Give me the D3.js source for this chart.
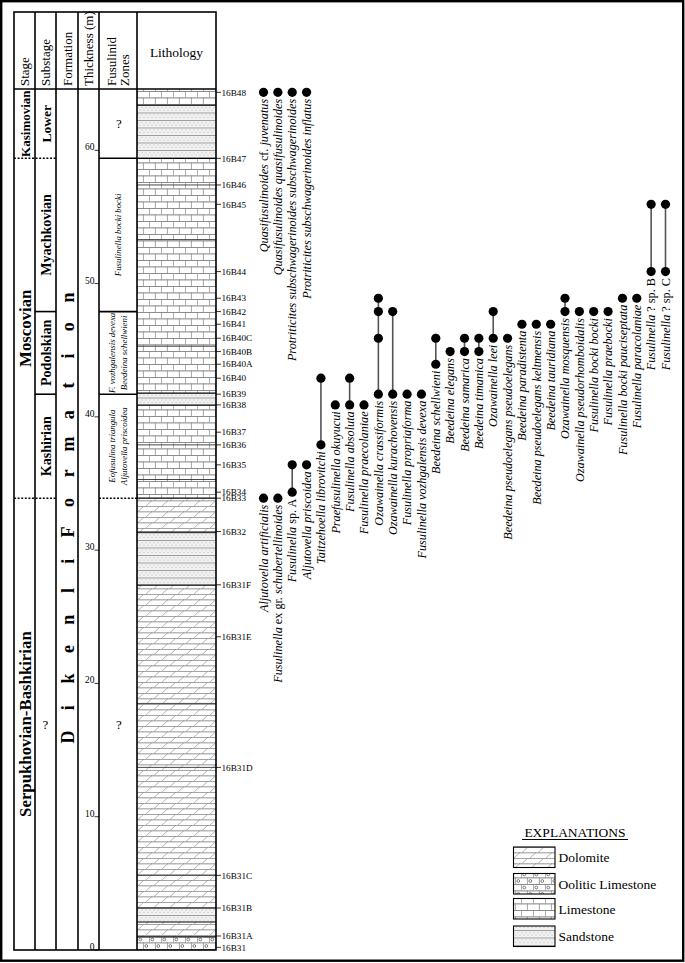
<!DOCTYPE html>
<html><head><meta charset="utf-8">
<script src="https://cdn.jsdelivr.net/npm/d3@7/dist/d3.min.js"></script>
<style>body{margin:0;background:#fff}</style>
</head><body><script>
// ---------- DATA ----------
const sampleIds = ["16B31","16B31A","16B31B","16B31C","16B31D","16B31E","16B31F","16B32","16B33","16B34","16B35","16B36","16B37","16B38","16B39","16B40","16B40A","16B40B","16B40C","16B41","16B42","16B43","16B44","16B45","16B46","16B47","16B48"];
const sampleDepths = [0.2,1.05,3.15,5.6,13.7,23.5,27.4,31.4,33.9,34.35,36.4,37.9,38.85,40.9,41.7,42.9,43.95,44.9,45.9,46.95,47.9,48.9,50.9,55.95,57.4,59.4,64.35];
const thicknessTicks = [0,10,20,30,40,50,60];
const sectionTop = 64.6;

const lithoTypes = ["oolitic","dolomite","sandstone","dolomite","sandstone","dolomite","limestone","sandstone","limestone","sandstone","limestone"];
const lithoBase  = [0,0.98,2.1,3.15,27.38,31.35,33.9,40.88,41.78,59.4,63.38];
const lithoTop   = [0.98,2.1,3.15,27.38,31.35,33.9,40.88,41.78,59.4,63.38,64.6];
const bedLines   = [5.6,13.7,18.5,35.3,37.9,45.3,53.3,57.4];

const stageNames = ["Serpukhovian-Bashkirian","Moscovian","Kasimovian"];
const stageBase = [0,33.9,59.4];
const stageTop = [33.9,59.4,64.6];
const substageNames = ["?","Kashirian","Podolskian","Myachkovian","Lower"];
const substageBase = [0,33.9,41.7,47.9,59.4];
const substageTop = [33.9,41.7,47.9,59.4,64.6];
const zoneNames = [["?"],["Eofusulina triangula","Aljutovella priscoidea"],["F. vozhgalensis devexa","Beedeina schellwieni"],["Fusulinella bocki bocki"],["?"]];
const zoneBase = [0,33.9,41.7,47.9,59.4];
const zoneTop = [33.9,41.7,47.9,59.4,64.6];
const formationLetters = "DikenliFormation".split("");

const speciesNames = ["Aljutovella artificialis","Fusulinella ex gr. schubertellinoides","Fusulinella sp. A","Aljutovella priscoidea","Taitzehoella librovitchi","Praefusulinella okuyucui","Fusulinella absoluta","Fusulinella praecolaniae","Ozawainella crassiformis","Ozawainella kurachovensis","Fusulinella propriaforma","Fusulinella vozhgalensis devexa","Beedeina schellwieni","Beedeina elegans","Beedeina samarica","Beedeina timanica","Ozawainella leei","Beedeina pseudoelegans pseudoelegans","Beedeina paradistenta","Beedeina pseudoelegans keltmensis","Beedeina tauridiana","Ozawainella mosquensis","Ozawainella pseudorhomboidalis","Fusulinella bocki bocki","Fusulinella praebocki","Fusulinella bocki pauciseptata","Fusulinella paracolaniae","Fusulinella ? sp. B","Fusulinella ? sp. C"];
const speciesSamples = [["16B33"],["16B33"],["16B34","16B35"],["16B35"],["16B36","16B40"],["16B38"],["16B38","16B40"],["16B38"],["16B39","16B40C","16B42","16B43"],["16B39","16B42"],["16B39"],["16B39"],["16B40A","16B40C"],["16B40B"],["16B40B","16B40C"],["16B40B","16B40C"],["16B40C","16B42"],["16B40C"],["16B41"],["16B41"],["16B41"],["16B42","16B43"],["16B42"],["16B42"],["16B42"],["16B43"],["16B43"],["16B44","16B45"],["16B44","16B45"]];
const topSpeciesNames = ["Quasifusulinoides cf. juvenatus","Quasifusulinoides quasifusulinoides","Protriticites subschwagerinoides subschwagerinoides","Protriticites subschwagerinoides inflatus"];
const topSpeciesSamples = [["16B48"],["16B48"],["16B48"],["16B48"]];

const legendNames = ["Dolomite","Oolitic Limestone","Limestone","Sandstone"];
const legendTypes = ["dolomite","oolitic","limestone","sandstone"];

// ---------- LAYOUT ----------
const W = 685, H = 963;
const cols = {stage:[14,35], sub:[35,56], form:[56,78], thick:[78,99], zone:[99,137], lith:[137,216]};
const headTop = 12, headBot = 89, tableBot = 950;
const y = d3.scaleLinear().domain([0, sectionTop]).range([tableBot, headBot]);
const x = d3.scaleLinear().domain([0, speciesNames.length - 1]).range([263.5, 665.5]);
const depthOf = id => sampleDepths[sampleIds.indexOf(id)];
const cx = c => (c[0] + c[1]) / 2;

const svg = d3.select("body").append("svg").attr("width", W).attr("height", H)
  .attr("font-family", "'Liberation Serif', 'Times New Roman', Times, 'DejaVu Serif', serif");
const defs = svg.append("defs");

// patterns
function limePattern(id, oolitic) {
  const p = defs.append("pattern").attr("id", id).attr("patternUnits","userSpaceOnUse")
    .attr("width",12).attr("height",13).attr("x",137).attr("y",0);
  p.append("rect").attr("width",12).attr("height",13).attr("fill","#fff");
  const g = p.append("g").attr("stroke","#555").attr("stroke-width",0.75).attr("fill","none");
  g.append("line").attr("x1",0).attr("x2",12).attr("y1",0.4).attr("y2",0.4);
  g.append("line").attr("x1",0).attr("x2",12).attr("y1",6.9).attr("y2",6.9);
  g.append("line").attr("x1",0.4).attr("x2",0.4).attr("y1",0).attr("y2",6.5).attr("stroke","#888");
  g.append("line").attr("x1",6.4).attr("x2",6.4).attr("y1",6.5).attr("y2",13).attr("stroke","#888");
  if (oolitic) {
    g.append("circle").attr("cx",3.3).attr("cy",3.5).attr("r",1.4);
    g.append("circle").attr("cx",9.3).attr("cy",10).attr("r",1.4);
  }
}
limePattern("p-limestone", false);
limePattern("p-oolitic", true);
{
  const p = defs.append("pattern").attr("id","p-dolomite").attr("patternUnits","userSpaceOnUse")
    .attr("width",16).attr("height",11).attr("x",137);
  p.append("rect").attr("width",16).attr("height",11).attr("fill","#fff");
  const g = p.append("g").attr("fill","none");
  g.append("line").attr("x1",0).attr("x2",16).attr("y1",0.35).attr("y2",0.35).attr("stroke","#666").attr("stroke-width",0.7);
  g.append("line").attr("x1",0).attr("x2",16).attr("y1",5.85).attr("y2",5.85).attr("stroke","#666").attr("stroke-width",0.7);
  g.append("line").attr("x1",1).attr("y1",5.5).attr("x2",7).attr("y2",0).attr("stroke","#888").attr("stroke-width",0.65);
  g.append("line").attr("x1",9).attr("y1",11).attr("x2",15).attr("y2",5.5).attr("stroke","#888").attr("stroke-width",0.65);
}
{
  const p = defs.append("pattern").attr("id","p-sandstone").attr("patternUnits","userSpaceOnUse")
    .attr("width",4).attr("height",7.5).attr("x",137);
  p.append("rect").attr("width",4).attr("height",7.5).attr("fill","#f2f2f2");
  p.append("circle").attr("cx",1).attr("cy",2.5).attr("r",0.5).attr("fill","#999");
  p.append("circle").attr("cx",3).attr("cy",5).attr("r",0.5).attr("fill","#999");
  p.append("line").attr("x1",0).attr("x2",4).attr("y1",0.35).attr("y2",0.35).attr("stroke","#666").attr("stroke-width",0.7);
}

// outer border
svg.append("rect").attr("x",1.2).attr("y",1.2).attr("width",682).attr("height",959.5)
  .attr("fill","none").attr("stroke","#000").attr("stroke-width",2.4);

// lithology layers
const lith = svg.append("g");
lithoTypes.forEach((t,i) => {
  lith.append("rect").attr("x",cols.lith[0]).attr("width",cols.lith[1]-cols.lith[0])
    .attr("y",y(lithoTop[i])).attr("height",y(lithoBase[i])-y(lithoTop[i]))
    .attr("fill",`url(#p-${t})`);
});
bedLines.forEach(d => {
  lith.append("line").attr("x1",cols.lith[0]).attr("x2",cols.lith[1]).attr("y1",y(d)).attr("y2",y(d))
    .attr("stroke","#333").attr("stroke-width",0.9);
});
lithoBase.slice(1).forEach(d => {
  lith.append("line").attr("x1",cols.lith[0]).attr("x2",cols.lith[1]).attr("y1",y(d)).attr("y2",y(d))
    .attr("stroke","#000").attr("stroke-width",1.2);
});

// table frame
const frame = svg.append("g").attr("stroke","#000").attr("stroke-width",1.6).attr("fill","none");
frame.append("rect").attr("x",14).attr("y",headTop).attr("width",216-14).attr("height",tableBot-headTop);
[35,56,78,99,137].forEach(xx => frame.append("line").attr("x1",xx).attr("x2",xx).attr("y1",headTop).attr("y2",tableBot));
frame.append("line").attr("x1",14).attr("x2",216).attr("y1",headBot).attr("y2",headBot);

// header labels
const hdr = svg.append("g").attr("font-size",13);
[["Stage",cx(cols.stage)],["Substage",cx(cols.sub)],["Formation",cx(cols.form)],["Thickness (m)",cx(cols.thick)],["Fusulinid",111],["Zones",124]]
  .forEach(([t,xx]) => hdr.append("text").attr("transform",`translate(${xx},86) rotate(-90)`).attr("dy","0.35em").text(t));
hdr.append("text").attr("x",cx(cols.lith)).attr("y",52).attr("dy","0.35em").attr("text-anchor","middle").attr("font-size",13.5).text("Lithology");

// stage column
stageNames.forEach((n,i) => {
  const yc = (y(stageBase[i]) + y(stageTop[i])) / 2;
  svg.append("text").attr("transform",`translate(${cx(cols.stage)+0.5},${yc}) rotate(-90)`)
    .attr("text-anchor","middle").attr("dy","0.35em").attr("font-weight","bold")
    .attr("font-size", n === "Kasimovian" ? 13 : 16.8).text(n);
});
// substage column
substageNames.forEach((n,i) => {
  const yc = (y(substageBase[i]) + y(substageTop[i])) / 2;
  if (n === "?") {
    svg.append("text").attr("x",cx(cols.sub)).attr("y",yc).attr("dy","0.35em").attr("text-anchor","middle").attr("font-size",13).text(n);
  } else {
    svg.append("text").attr("transform",`translate(${cx(cols.sub)+0.5},${yc}) rotate(-90)`)
      .attr("text-anchor","middle").attr("dy","0.35em").attr("font-weight","bold")
      .attr("font-size", n === "Lower" ? 13.5 : 14).text(n);
  }
});
// formation letters
formationLetters.forEach((l,i) => {
  svg.append("text").attr("transform",`translate(${cx(cols.form)+0.5},${737 - i*29.3}) rotate(-90)`)
    .attr("text-anchor","middle").attr("dy","0.35em").attr("font-weight","bold").attr("font-size",18).text(l);
});
// thickness axis
thicknessTicks.forEach(t => {
  svg.append("text").attr("x",94.5).attr("y",y(t)).attr("text-anchor","end").attr("font-size",9.5).text(t);
  svg.append("line").attr("x1",94.5).attr("x2",99).attr("y1",y(t)).attr("y2",y(t)).attr("stroke","#000").attr("stroke-width",0.8);
});
// zones
zoneNames.forEach((lines,i) => {
  const yc = (y(zoneBase[i]) + y(zoneTop[i])) / 2;
  if (lines[0] === "?") {
    svg.append("text").attr("x",cx(cols.zone)+1).attr("y",yc).attr("dy","0.35em").attr("text-anchor","middle").attr("font-size",13).text("?");
  } else {
    lines.forEach((ln,k) => {
      const xx = cx(cols.zone) + (k - (lines.length-1)/2) * 11.8;
      svg.append("text").attr("transform",`translate(${xx},${yc}) rotate(-90)`)
        .attr("text-anchor","middle").attr("dy","0.35em").attr("font-style","italic").attr("font-size",8.8).text(ln);
    });
  }
});
// boundary lines in left columns
function hline(x1,x2,d,dashed){
  svg.append("line").attr("x1",x1).attr("x2",x2).attr("y1",y(d)).attr("y2",y(d))
    .attr("stroke","#000").attr("stroke-width",dashed?1.5:1.6).attr("stroke-dasharray",dashed?"2,1.6":null);
}
hline(14,56,stageBase[2],true);
hline(14,56,stageBase[1],true);
hline(35,56,substageBase[2],false);
hline(35,56,substageBase[3],false);
hline(99,137,zoneBase[4],false);
hline(99,137,zoneBase[3],false);
hline(99,137,zoneBase[2],false);
hline(99,137,zoneBase[1],true);

// sample labels
sampleIds.forEach((id,i) => {
  const yy = y(sampleDepths[i]);
  svg.append("line").attr("x1",216).attr("x2",221).attr("y1",yy).attr("y2",yy).attr("stroke","#000").attr("stroke-width",0.8);
  svg.append("text").attr("x",221.5).attr("y",yy).attr("dy","0.35em").attr("font-size",9.2).text(id);
});

// species
const upright = new Set(["?","sp.","cf.","ex","gr.","A","B","C"]);
function speciesLabel(g, name, xx, yy) {
  const t = g.append("text").attr("transform",`translate(${xx},${yy}) rotate(-90)`)
    .attr("text-anchor","end").attr("dy","0.35em").attr("font-size",12.2);
  const words = name.split(" ");
  words.forEach((w,k) => {
    t.append("tspan").attr("font-style", upright.has(w) ? "normal" : "italic").text((k ? " " : "") + w);
  });
}
function drawSpecies(names, samples) {
  const g = svg.append("g");
  names.forEach((n,i) => {
    const ds = samples[i].map(depthOf);
    const lo = d3.min(ds), hi = d3.max(ds);
    if (ds.length > 1) {
      g.append("line").attr("x1",x(i)).attr("x2",x(i)).attr("y1",y(lo)).attr("y2",y(hi))
        .attr("stroke","#555").attr("stroke-width",1.6);
    }
    ds.forEach(d => g.append("circle").attr("cx",x(i)).attr("cy",y(d)).attr("r",4.6).attr("fill","#000"));
    speciesLabel(g, n, x(i), y(lo) + 6.5);
  });
}
drawSpecies(speciesNames, speciesSamples);
drawSpecies(topSpeciesNames, topSpeciesSamples);

// legend
const lg = svg.append("g");
lg.append("text").attr("x",575).attr("y",837).attr("text-anchor","middle").attr("font-size",13.5).text("EXPLANATIONS");
lg.append("line").attr("x1",522).attr("x2",628).attr("y1",839.5).attr("y2",839.5).attr("stroke","#000").attr("stroke-width",1);
const legendY = [847,873.5,898.5,926];
legendNames.forEach((n,i) => {
  lg.append("rect").attr("x",513.5).attr("y",legendY[i]).attr("width",41.5).attr("height",20.5)
    .attr("fill",`url(#p-${legendTypes[i]})`).attr("stroke","#000").attr("stroke-width",1.1);
  lg.append("text").attr("x",558.5).attr("y",legendY[i]+10.5).attr("dy","0.35em").attr("font-size",13.5).text(n);
});
</script></body></html>
